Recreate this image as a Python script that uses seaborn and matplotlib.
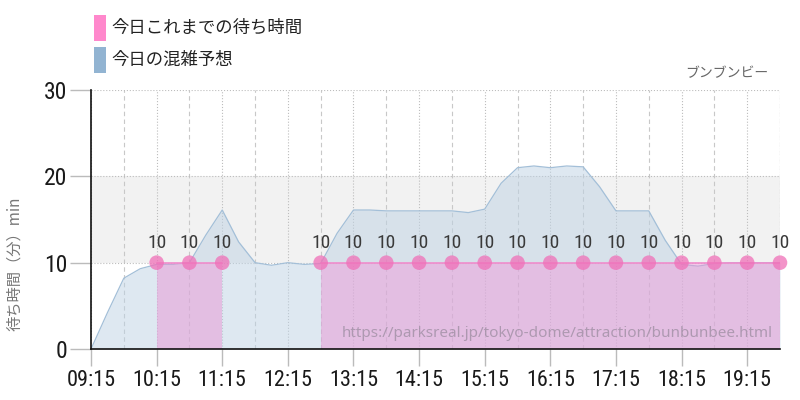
import numpy as np
import pandas as pd
import matplotlib
matplotlib.use("Agg")
import matplotlib.pyplot as plt
import seaborn as sns
from matplotlib.patches import Rectangle
from matplotlib import font_manager as fm

# DATA
forecast_times = ["09:15", "09:30", "09:45", "10:00", "10:15", "10:30", "10:45", "11:00",
                  "11:15", "11:30", "11:45", "12:00", "12:15", "12:30", "12:45", "13:00",
                  "13:15", "13:30", "13:45", "14:00", "14:15", "14:30", "14:45", "15:00",
                  "15:15", "15:30", "15:45", "16:00", "16:15", "16:30", "16:45", "17:00",
                  "17:15", "17:30", "17:45", "18:00", "18:15", "18:30", "18:45", "19:00",
                  "19:15", "19:30", "19:45"]
forecast_wait = [0, 4.2, 8.2, 9.3, 9.8, 9.8, 10.0, 13.2,
                 16.1, 12.4, 10.0, 9.7, 10.0, 9.8, 9.9, 13.4,
                 16.1, 16.1, 16.0, 16.0, 16.0, 16.0, 16.0, 15.8,
                 16.2, 19.2, 21.0, 21.2, 21.0, 21.2, 21.1, 18.8,
                 16.0, 16.0, 16.0, 12.6, 9.8, 9.6, 9.9, 10.0,
                 10.0, 10.0, 10.0]

actual_times = ["10:15", "10:45", "11:15",
                "12:45", "13:15", "13:45", "14:15", "14:45", "15:15", "15:45",
                "16:15", "16:45", "17:15", "17:45", "18:15", "18:45", "19:15", "19:45"]
actual_wait = [10] * 18
actual_segment = [0, 0, 0] + [1] * 15

tick_labels = ["09:15", "10:15", "11:15", "12:15", "13:15", "14:15",
               "15:15", "16:15", "17:15", "18:15", "19:15"]


def to_h(s):
    h, m = s.split(":")
    return int(h) + int(m) / 60


fc = pd.DataFrame({"t": [to_h(s) for s in forecast_times], "wait": forecast_wait})
act = pd.DataFrame({"t": [to_h(s) for s in actual_times], "wait": actual_wait,
                    "seg": actual_segment})

sns.set_style("white")
plt.rcParams["font.family"] = ["Noto Sans CJK JP", "DejaVu Sans"]

# condensed font for numbers if one is there
installed = {f.name for f in fm.fontManager.ttflist}
num_name = "Roboto"
for cand in ["Roboto Condensed", "Liberation Sans Narrow", "Open Sans Condensed", "Roboto"]:
    if cand in installed:
        num_name = cand
        break
num_font = [num_name, "DejaVu Sans"]
condensed = num_name != "Roboto"
tick_size = 16 if condensed else 14
lab_size = 14 if condensed else 11.5

fig = plt.figure(figsize=(8, 4), dpi=100)
ax = fig.add_axes([0.11375, 0.1275, 0.86125, 0.6475])

# background band + grid
ax.axhspan(10, 20, color="#f2f2f2", lw=0, zorder=0)
half_hours = np.arange(9.75, 19.8, 1.0)
for x in half_hours:
    ax.axvline(x, color="#c8c8c8", ls=(0, (4, 3)), lw=0.8, zorder=1)
for lab in tick_labels + ["19:45"]:
    ax.axvline(to_h(lab), color="#bdbdbd", ls=":", lw=0.8, zorder=1)
for y in [10, 20, 30]:
    ax.axhline(y, color="#bdbdbd", ls=":", lw=0.8, zorder=1)

# forecast area
ax.fill_between(fc["t"], 0, fc["wait"], color=(190/255, 210/255, 228/255),
                alpha=0.5, lw=0, zorder=2)
sns.lineplot(data=fc, x="t", y="wait", color="#a3bfd8", lw=0.9, ax=ax, zorder=3)

# actual wait
for seg, g in act.groupby("seg"):
    ax.fill_between(g["t"], 0, g["wait"], color=(232/255, 150/255, 212/255),
                    alpha=0.5, lw=0, zorder=4)
sns.lineplot(data=act, x="t", y="wait", units="seg", estimator=None,
             color="#f08ccc", lw=1.2, ax=ax, zorder=5)
sns.scatterplot(data=act, x="t", y="wait", s=110, color="#f070b8", alpha=0.75,
                edgecolor="none", ax=ax, zorder=6, clip_on=False)
for t, w in zip(act["t"], act["wait"]):
    ax.annotate(str(w), (t, w), xytext=(0, 8), textcoords="offset points",
                ha="center", va="bottom", fontsize=lab_size, color="#3a3a3a",
                family=num_font)

ax.set_xlim(to_h("09:15"), to_h("19:45"))
ax.set_ylim(0, 30)
ax.set_yticks([0, 10, 20, 30])
ax.set_xticks([to_h(s) for s in tick_labels])
ax.set_xticklabels(tick_labels, family=num_font, fontsize=tick_size, color="#1a1a1a")
ax.set_yticklabels(["0", "10", "20", "30"], family=num_font, fontsize=tick_size + 1,
                   color="#1a1a1a")
ax.tick_params(axis="y", length=15, color="#bbbbbb", width=1, pad=2, left=True)
ax.tick_params(axis="x", length=12, color="#bbbbbb", width=1, pad=3, bottom=True)
ax.set_xlabel("")
ax.set_ylabel("待ち時間（分）min", color="#777777", fontsize=11)
ax.yaxis.set_label_coords(-0.098, 0.33)

for side in ["top", "right"]:
    ax.spines[side].set_visible(False)
for side in ["left", "bottom"]:
    ax.spines[side].set_color("#111111")
    ax.spines[side].set_linewidth(1.2)
    ax.spines[side].set_zorder(7)

# watermark and name
ax.text(0.99, 0.06, "https://parksreal.jp/tokyo-dome/attraction/bunbunbee.html",
        transform=ax.transAxes, ha="right", va="center", fontsize=11,
        color="#8a8090", alpha=0.6, family=["Noto Sans", "DejaVu Sans"], zorder=8)
fig.text(0.96, 0.8, "ブンブンビー", ha="right", va="bottom", fontsize=10, color="#666666")

# legend
fig.patches.append(Rectangle((94/800, 1 - 41/400), 12/800, 26/400,
                             transform=fig.transFigure, color="#ff88cc", lw=0))
fig.patches.append(Rectangle((94/800, 1 - 73/400), 12/800, 26/400,
                             transform=fig.transFigure, color="#92b4d2", lw=0))
fig.text(111/800, 1 - 28/400, "今日これまでの待ち時間", ha="left", va="center",
         fontsize=12.5, color="#222222")
fig.text(111/800, 1 - 60/400, "今日の混雑予想", ha="left", va="center",
         fontsize=12.5, color="#222222")

fig.savefig("out.png", dpi=100)
